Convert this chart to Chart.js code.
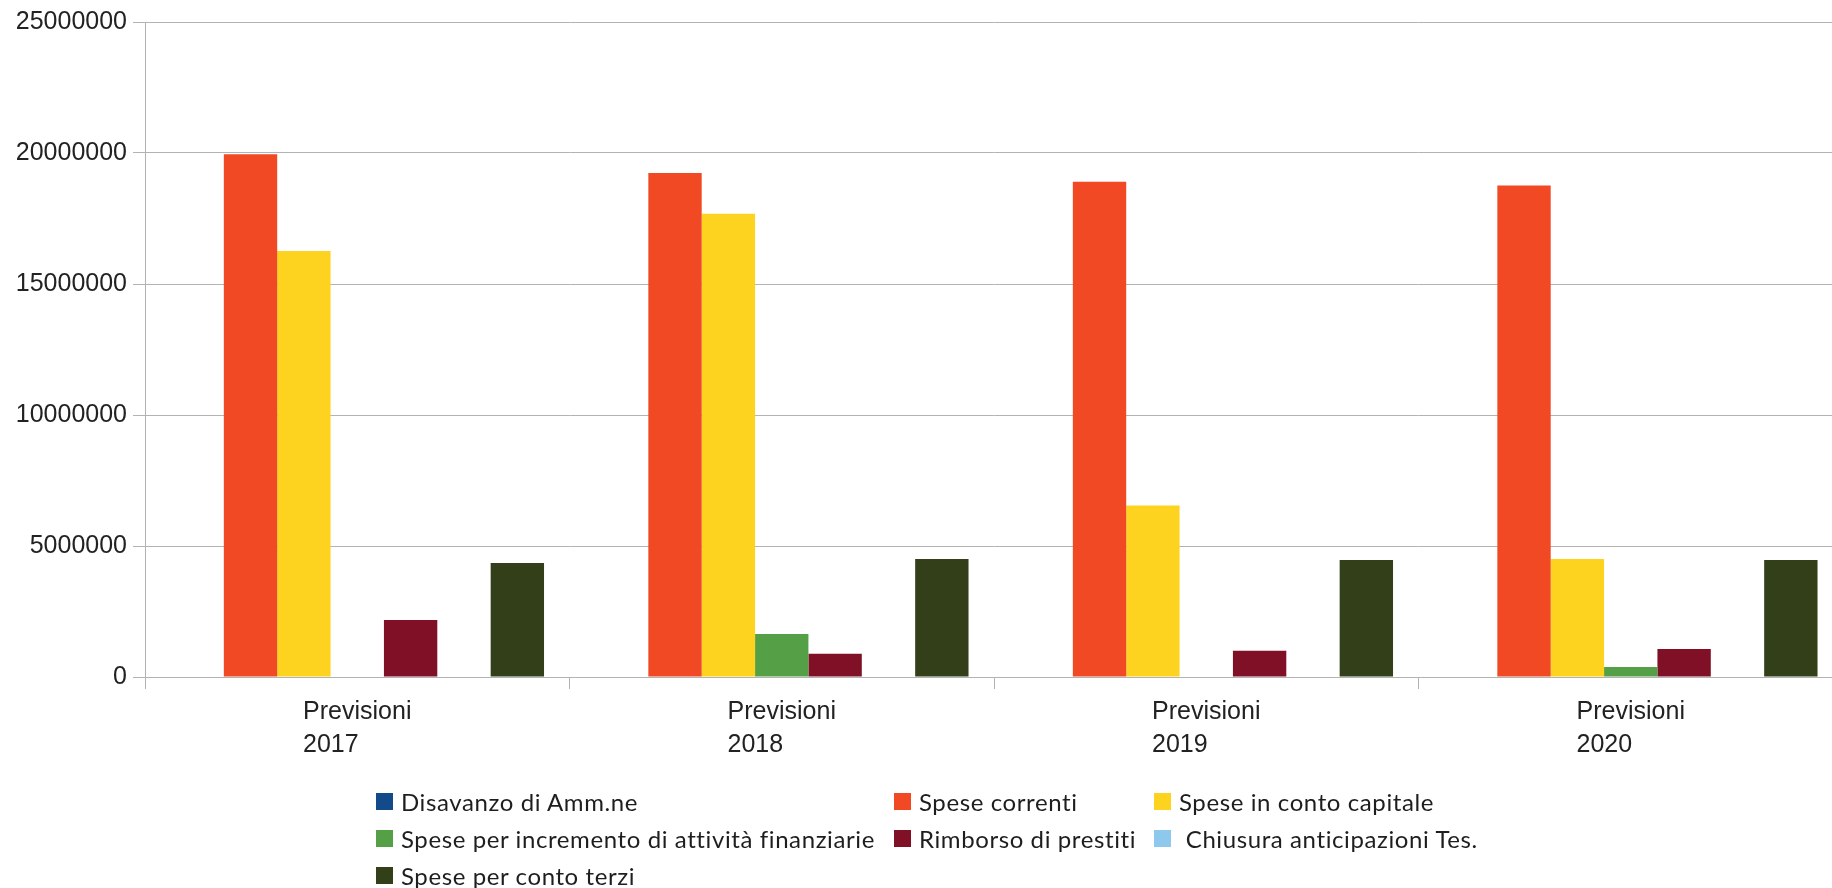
<!DOCTYPE html>
<html><head><meta charset="utf-8">
<script src="https://cdn.jsdelivr.net/npm/chart.js@4.4.0/dist/chart.umd.min.js"></script>
<style>
html,body{margin:0;padding:0;background:#fff;overflow:hidden;width:1832px;height:888px;}
#wrap{position:absolute;left:0;top:0;width:1850px;height:888px;}
#legend{position:absolute;left:0;top:0;width:1832px;height:888px;pointer-events:none;font-family:Lato,"Noto Sans",sans-serif;font-size:24px;color:#1e1e1e;}
.item{position:absolute;display:flex;align-items:center;white-space:pre;height:30px;letter-spacing:0.6px;}
.box{width:17px;height:17px;margin-right:8px;flex:none;}
</style></head><body>
<div id="wrap"><canvas id="c"></canvas></div>
<div id="legend"></div>
<script>
// ---- data ----
const categories = [['Previsioni','2017'], ['Previsioni','2018'], ['Previsioni','2019'], ['Previsioni','2020']];
const seriesNames = ['Disavanzo di Amm.ne', 'Spese correnti', 'Spese in conto capitale',
  'Spese per incremento di attività finanziarie', 'Rimborso di prestiti', ' Chiusura anticipazioni Tes.',
  'Spese per conto terzi'];
const disavanzo       = [0, 0, 0, 0];
const speseCorrenti   = [19950000, 19240000, 18900000, 18760000];
const speseCapitale   = [16260000, 17680000, 6550000, 4500000];
const speseIncremento = [0, 1640000, 0, 380000];
const rimborso        = [2180000, 890000, 1000000, 1070000];
const chiusura        = [0, 0, 0, 0];
const speseTerzi      = [4350000, 4500000, 4470000, 4470000];
const yTicks = [0, 5000000, 10000000, 15000000, 20000000, 25000000];
const seriesColors = ['#134a8a', '#f04923', '#fdd31f', '#55a046', '#7f1026', '#8ec8ec', '#333f19'];
const seriesValues = [disavanzo, speseCorrenti, speseCapitale, speseIncremento, rimborso, chiusura, speseTerzi];

// ---- x labels: centred block, left-aligned lines ----
const xLabelPlugin = {
  id: 'xlabels',
  afterDraw(chart) {
    const xs = chart.scales.x, ctx = chart.ctx;
    ctx.save();
    ctx.font = '25px "Liberation Sans"';
    ctx.fillStyle = '#222';
    ctx.textBaseline = 'middle';
    ctx.textAlign = 'left';
    categories.forEach((lines, i) => {
      const cx = xs.getPixelForValue(i);
      const w = Math.max(...lines.map(l => ctx.measureText(l).width));
      lines.forEach((l, j) => ctx.fillText(l, cx - w / 2, xs.top + 35 + j * 33));
    });
    ctx.restore();
  }
};

new Chart(document.getElementById('c'), {
  type: 'bar',
  data: {
    labels: categories.map(c => c.join(' ')),
    datasets: seriesNames.map((n, i) => ({
      label: n, data: seriesValues[i], backgroundColor: seriesColors[i],
      borderWidth: 0, barPercentage: 1.0, categoryPercentage: 0.88
    }))
  },
  options: {
    responsive: true, maintainAspectRatio: false, animation: false,
    layout: { padding: { left: 0, right: 7, top: 22, bottom: 0 } },
    plugins: { legend: { display: false }, tooltip: { enabled: false } },
    scales: {
      x: {
        offset: true,
        grid: { offset: true, drawOnChartArea: false, drawTicks: true, tickLength: 12, color: '#b3b3b3', lineWidth: 1 },
        border: { color: '#b3b3b3' },
        ticks: { display: false },
        afterFit: s => { s.height = 211; }
      },
      y: {
        min: 0, max: 25000000,
        afterBuildTicks: s => { s.ticks = yTicks.map(v => ({ value: v })); },
        ticks: { font: { family: 'Liberation Sans', size: 25 }, color: '#222', padding: 6, callback: v => String(v) },
        grid: { color: '#b3b3b3', tickLength: 12 },
        border: { color: '#b3b3b3' },
        afterFit: s => { s.width = 145; }
      }
    }
  },
  plugins: [xLabelPlugin]
});

// ---- legend ----
const legCols = [376, 894, 1154];
const legRows = [801, 838, 875];
const leg = document.getElementById('legend');
seriesNames.forEach((n, i) => {
  const d = document.createElement('div');
  d.className = 'item';
  d.style.left = legCols[i % 3] + 'px';
  d.style.top = (legRows[Math.floor(i / 3)] - 15) + 'px';
  const b = document.createElement('span');
  b.className = 'box'; b.style.background = seriesColors[i];
  const t = document.createElement('span');
  t.textContent = n;
  d.appendChild(b); d.appendChild(t);
  leg.appendChild(d);
});
</script>
</body></html>
